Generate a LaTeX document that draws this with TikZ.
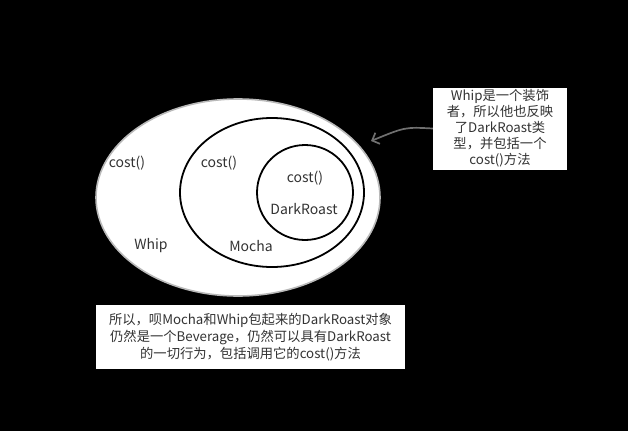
\documentclass[tikz,border=0pt]{standalone}
\usepackage{fontspec}
\setmainfont{Noto Sans CJK SC}
\usetikzlibrary{arrows.meta,shapes.geometric}
\definecolor{txt}{HTML}{333333}
\definecolor{arrgray}{HTML}{707070}
\begin{document}
\begin{tikzpicture}[x=1pt,y=-1pt,
  ring/.style={ellipse,draw=black,line width=1.8pt,inner sep=0pt},
  lbl/.style={text=txt,font=\fontsize{14}{16}\selectfont,inner sep=0pt},
  note/.style={fill=white,text=txt,align=center,inner sep=0pt},
  arr/.style={draw=arrgray,line width=1.7pt,-{Straight Barb[length=6pt,width=12pt]}}]
\fill[black] (0,0) rectangle (628,431);
\useasboundingbox (0,0) rectangle (628,431);
\node[ellipse,fill=white,draw=gray!55,line width=1.6pt,inner sep=0pt,minimum width=284pt,minimum height=197pt] (outer) at (238,197.5) {};
\node[ring,minimum width=184pt,minimum height=149pt] (mocha) at (272,192.5) {};
\node[ring,minimum width=96pt,minimum height=95pt] (dark) at (305,192.5) {};
\node[lbl] (c1) at (127,163) {cost()};
\node[lbl] (c2) at (219,163) {cost()};
\node[lbl] (c3) at (305,178) {cost()};
\node[lbl] (dr) at (304,209) {DarkRoast};
\node[lbl] (whip) at (151,246) {Whip};
\node[lbl] (moc) at (251,246) {Mocha};
\node[note,minimum width=134pt,minimum height=82pt,font=\fontsize{13.3}{16}\selectfont] (box1) at (500,128.5)
  {Whip是一个装饰\\者，所以他也反映\\了DarkRoast类\\型，并包括一个\\cost()方法};
\node[note,minimum width=309pt,minimum height=64pt,font=\fontsize{13.3}{17}\selectfont] (box2) at (250.5,337)
  {所以，呗Mocha和Whip包起来的DarkRoast对象\\仍然是一个Beverage，仍然可以具有DarkRoast\\的一切行为，包括调用它的cost()方法};
\coordinate (tip) at (371,141);
\draw[arr] (box1.west) .. controls (405,127) .. (tip);
\end{tikzpicture}
\end{document}
